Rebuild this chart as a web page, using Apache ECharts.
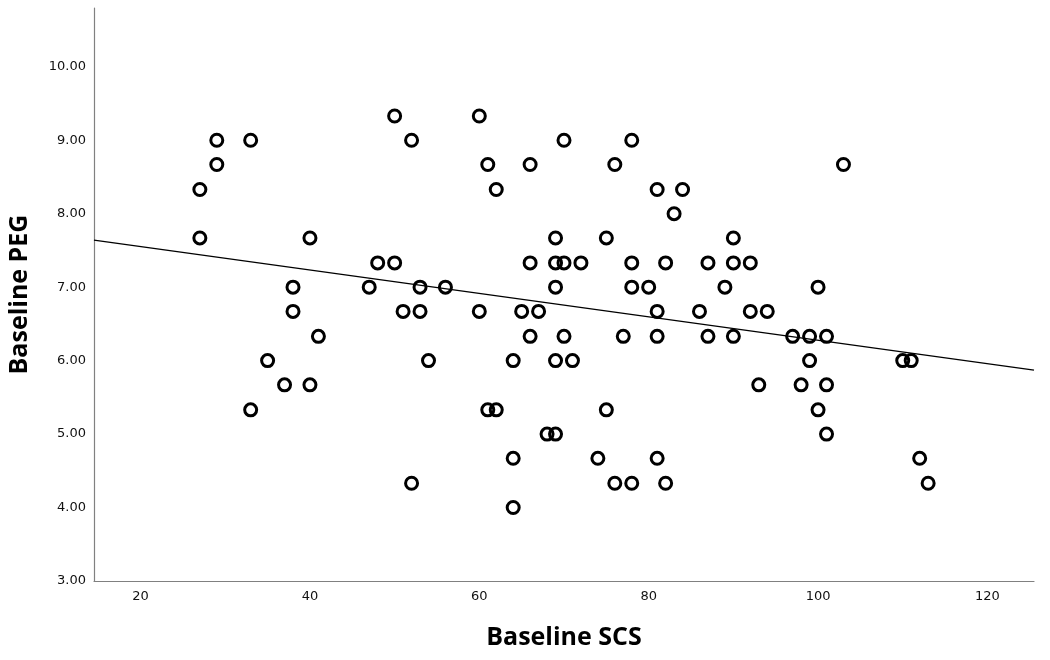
<!DOCTYPE html>
<html>
<head>
<meta charset="utf-8">
<script src="https://cdn.jsdelivr.net/npm/echarts@6/dist/echarts.min.js"></script>
<style>html,body{margin:0;padding:0;background:#fff}#c{width:1050px;height:660px}</style>
</head>
<body>
<div id="c"></div>
<script>
// Baseline SCS (x) and Baseline PEG (y)
const scsValues = [27,27,29,29,33,33,35,37,38,38,40,40,41,
  47,48,50,50,51,52,52,53,53,54,56,
  60,60,61,61,62,62,64,64,64,65,66,66,66,67,68,
  69,69,69,69,69,70,70,70,71,72,74,75,75,76,76,77,
  78,78,78,78,80,81,81,81,81,82,82,83,84,
  86,87,87,89,90,90,90,92,92,93,94,97,98,99,99,100,100,101,101,101,103,110,111,112,113];
const pegValues = [8.33,7.67,9.00,8.67,9.00,5.33,6.00,5.67,7.00,6.67,7.67,5.67,6.33,
  7.00,7.33,9.33,7.33,6.67,9.00,4.33,7.00,6.67,6.00,7.00,
  9.33,6.67,8.67,5.33,8.33,5.33,6.00,4.67,4.00,6.67,8.67,7.33,6.33,6.67,5.00,
  7.67,7.33,7.00,6.00,5.00,9.00,7.33,6.33,6.00,7.33,4.67,7.67,5.33,8.67,4.33,6.33,
  9.00,7.33,7.00,4.33,7.00,8.33,6.67,6.33,4.67,7.33,4.33,8.00,8.33,
  6.67,7.33,6.33,7.00,7.67,7.33,6.33,7.33,6.67,5.67,6.67,6.33,5.67,6.33,6.00,7.00,5.33,6.33,5.67,5.00,8.67,6.00,6.00,4.67,4.33];
// Fit line end points
const fitX = [14.5, 125.5];
const fitY = [7.64, 5.87];
// Tick labels
const xTicks = [20, 40, 60, 80, 100, 120];
const yTicks = [3, 4, 5, 6, 7, 8, 9, 10];

const points = scsValues.map((x, i) => [x, pegValues[i]]);
const fitLine = fitX.map((x, i) => [x, fitY[i]]);

const chart = echarts.init(document.getElementById('c'), null, {renderer: 'canvas'});
chart.setOption({
  animation: false,
  backgroundColor: '#fff',
  grid: {left: 94, right: 16, top: 8, bottom: 79, outerBoundsMode: 'none', containLabel: false},
  xAxis: {
    type: 'value', min: 14.5, max: 125.5,
    name: 'Baseline SCS', nameLocation: 'middle', nameGap: 44,
    nameTextStyle: {fontFamily: 'Open Sans', fontWeight: 'bold', fontSize: 25, color: '#000'},
    axisLine: {show: true, lineStyle: {color: '#808080', width: 1.2}},
    axisTick: {show: false},
    splitLine: {show: false},
    axisLabel: {customValues: xTicks, fontFamily: 'DejaVu Sans', fontSize: 13, color: '#111', margin: 9}
  },
  yAxis: {
    type: 'value', min: 3, max: 10.8,
    name: 'Baseline PEG', nameLocation: 'middle', nameGap: 62,
    nameTextStyle: {fontFamily: 'Open Sans', fontWeight: 'bold', fontSize: 25, color: '#000'},
    axisLine: {show: true, lineStyle: {color: '#808080', width: 1.2}},
    axisTick: {show: false},
    splitLine: {show: false},
    axisLabel: {customValues: yTicks, formatter: v => Number(v).toFixed(2), fontFamily: 'DejaVu Sans', fontSize: 13, color: '#111', margin: 8}
  },
  series: [
    {
      type: 'line', data: fitLine, showSymbol: false, symbol: 'none',
      lineStyle: {color: '#000', width: 1.4}, z: 2, silent: true
    },
    {
      type: 'scatter', data: points, symbol: 'circle', symbolSize: 12,
      itemStyle: {color: 'rgba(255,255,255,0)', borderColor: '#000', borderWidth: 3, opacity: 1},
      z: 3
    }
  ]
});
</script>
</body>
</html>
